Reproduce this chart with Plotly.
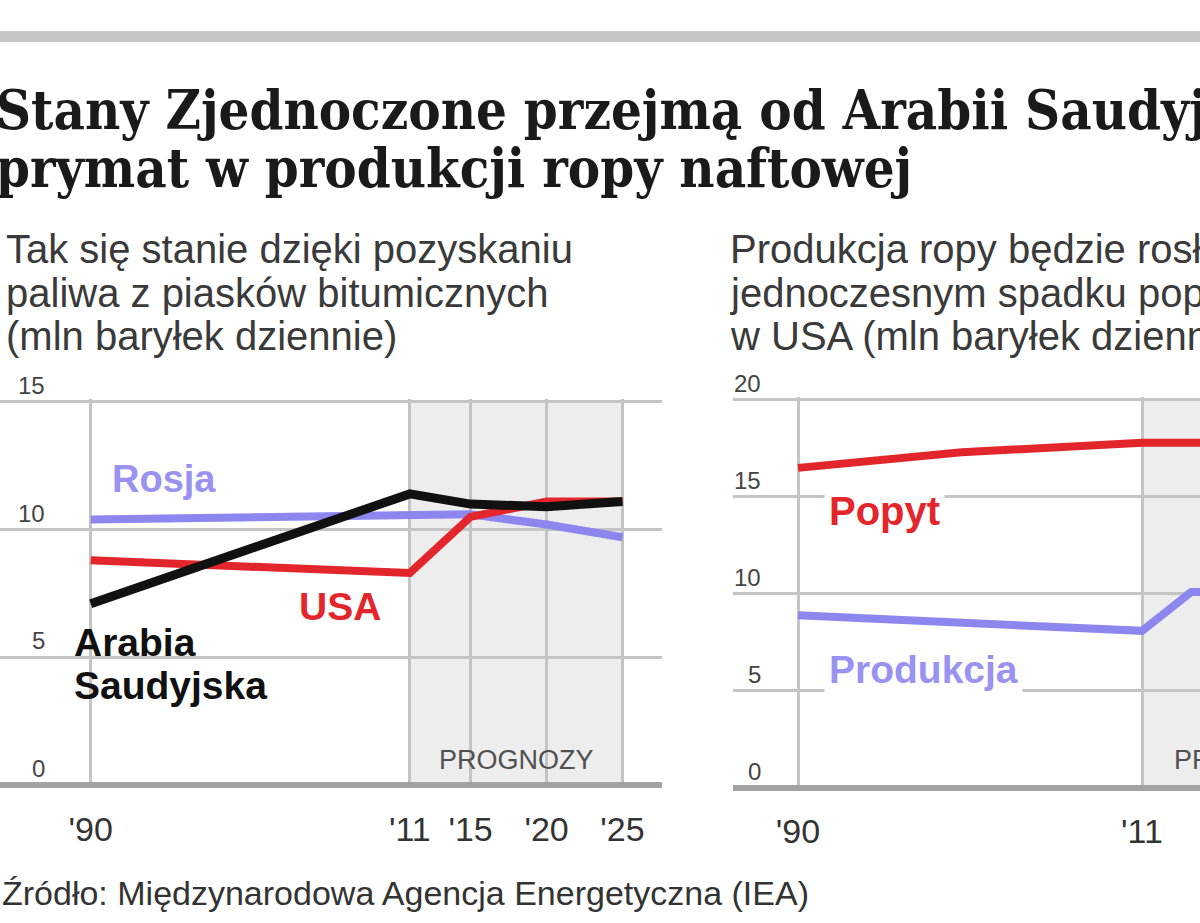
import plotly.graph_objects as go

# left panel: oil production, mln barrels per day
years = [1990, 2011, 2015, 2020, 2025]
usa = [8.8, 8.3, 10.5, 11.1, 11.1]
saudi = [7.1, 11.4, 11.0, 10.9, 11.1]
russia = [10.4, 10.6, 10.6, 10.2, 9.7]

# right panel: USA demand vs production
years_us = [1990, 2000, 2011, 2014, 2015]
demand = [16.5, 17.3, 17.8, 17.8, 17.8]
production = [8.9, 8.5, 8.1, 10.1, 10.1]

xticks = [1990, 2011, 2015, 2020, 2025]
xticktext = ["'90", "'11", "'15", "'20", "'25"]
yticks_left = [0, 5, 10, 15]
yticks_right = [0, 5, 10, 15, 20]
forecast = [2011, 2025]

red = '#e3262c'
lav = '#8c86ee'
black = '#111111'
grid = '#c4c4c4'
sans = 'Liberation Sans, Arial, sans-serif'

fig = go.Figure()
fig.add_trace(go.Scatter(x=years, y=russia, mode='lines', line=dict(color=lav, width=8), xaxis='x', yaxis='y'))
fig.add_trace(go.Scatter(x=years, y=usa, mode='lines', line=dict(color=red, width=8), xaxis='x', yaxis='y'))
fig.add_trace(go.Scatter(x=years, y=saudi, mode='lines', line=dict(color=black, width=9), xaxis='x', yaxis='y'))
fig.add_trace(go.Scatter(x=years_us, y=demand, mode='lines', line=dict(color=red, width=8), xaxis='x2', yaxis='y2'))
fig.add_trace(go.Scatter(x=years_us, y=production, mode='lines', line=dict(color=lav, width=8), xaxis='x2', yaxis='y2'))

axis_common = dict(showgrid=True, gridcolor=grid, gridwidth=3, showline=False, ticks='', fixedrange=True)

# forecast shading
for xr, yr, ytop in [('x', 'y', 15), ('x2', 'y2', 20)]:
    fig.add_shape(type='rect', xref=xr, yref=yr, x0=forecast[0], x1=forecast[1], y0=0, y1=ytop,
                  fillcolor='#ededed', line_width=0, layer='below')

# top grey bar
fig.add_shape(type='rect', xref='paper', yref='paper', x0=0, x1=1, y0=0.9545, y1=0.9664,
              fillcolor='#c6c6c6', line_width=0)

ann = []
def txt(text, x, y, xref='paper', yref='paper', size=30, color='#333', bold=False,
        xanchor='left', yanchor='middle', family=sans, **kw):
    if bold:
        text = '<b>' + text + '</b>'
    ann.append(dict(text=text, x=x, y=y, xref=xref, yref=yref, showarrow=False, align='left',
                    xanchor=xanchor, yanchor=yanchor, font=dict(size=size, color=color, family=family), **kw))

title_font = 'DejaVu Serif Condensed, Liberation Serif, serif'
txt('Stany Zjednoczone przejmą od Arabii Saudyjskiej', -0.005, 0.881, size=54, color='#1a1a1a', bold=True, family=title_font)
txt('prymat w produkcji ropy naftowej', -0.005, 0.818, size=54, color='#1a1a1a', bold=True, family=title_font)

sub_left = ['Tak się stanie dzięki pozyskaniu', 'paliwa z piasków bitumicznych', '(mln baryłek dziennie)']
sub_right = ['Produkcja ropy będzie rosła przy', 'jednoczesnym spadku popytu', 'w USA (mln baryłek dziennie)']
for i, (a, b) in enumerate(zip(sub_left, sub_right)):
    yy = 1 - (249 + 43.5 * i) / 923
    txt(a, 0.003, yy, size=40, color='#3a3a3a')
    txt(b, 0.607, yy, size=40, color='#3a3a3a')
txt('Źródło: Międzynarodowa Agencja Energetyczna (IEA)', 0.0, 0.033, size=34, color='#333')

# y tick labels sitting just above the gridlines
for v in yticks_left:
    txt(str(v), 0.039, v, yref='y', size=24, color='#444', xanchor='right', yanchor='bottom', yshift=1)
for v in yticks_right:
    txt(str(v), 0.636, v, yref='y2', size=24, color='#444', xanchor='right', yanchor='bottom', yshift=1)

# series labels
txt('Rosja', 1991.3, 12.0, xref='x', yref='y', size=38, color='#9a92f0', bold=True)
txt('USA', 2003.6, 7.0, xref='x', yref='y', size=39, color=red, bold=True)
txt('Arabia', 1988.8, 5.6, xref='x', yref='y', size=39, color=black, bold=True)
txt('Saudyjska', 1988.8, 3.9, xref='x', yref='y', size=39, color=black, bold=True)
txt('PROGNOZY', (forecast[0] + forecast[1]) / 2, 1.0, xref='x', yref='y', size=27, color='#505050', xanchor='center')
txt('Popyt', 1991.6, 14.3, xref='x2', yref='y2', size=40, color=red, bold=True, bgcolor='white', borderpad=4)
txt('Produkcja', 1991.6, 6.1, xref='x2', yref='y2', size=39, color='#9a92f0', bold=True, bgcolor='white', borderpad=4)
txt('PROGNOZY', 0.977, 1.45, yref='y2', size=27, color='#505050')

tickfont = dict(size=34, color='#333', family=sans)
fig.update_layout(
    width=1200, height=923,
    margin=dict(l=0, r=0, t=0, b=0),
    paper_bgcolor='white', plot_bgcolor='white',
    showlegend=False,
    annotations=ann,
    xaxis=dict(axis_common, domain=[0, 0.5517], range=[1984.03, 2027.6], anchor='y',
               tickvals=xticks, ticktext=xticktext, tickfont=tickfont,
               ticklabelstandoff=18, zeroline=False),
    yaxis=dict(axis_common, domain=[0.1467, 0.5673], range=[-0.1, 15.1], anchor='x',
               tickvals=yticks_left, showticklabels=False,
               zeroline=True, zerolinecolor='#a3a3a3', zerolinewidth=6),
    xaxis2=dict(axis_common, domain=[0.6108, 1.0], range=[1986.03, 2014.54], anchor='y2',
                tickvals=xticks, ticktext=xticktext, tickfont=tickfont,
                ticklabelstandoff=18, zeroline=False),
    yaxis2=dict(axis_common, domain=[0.1442, 0.5698], range=[-0.1, 20.15], anchor='x2',
                tickvals=yticks_right, showticklabels=False,
                zeroline=True, zerolinecolor='#a3a3a3', zerolinewidth=6),
)

# page margin off so the figure sits at the window's top-left corner
fig.write_html("out.html", config={'displayModeBar': False},
               post_script="document.body.style.margin='0';document.body.style.overflow='hidden';")
